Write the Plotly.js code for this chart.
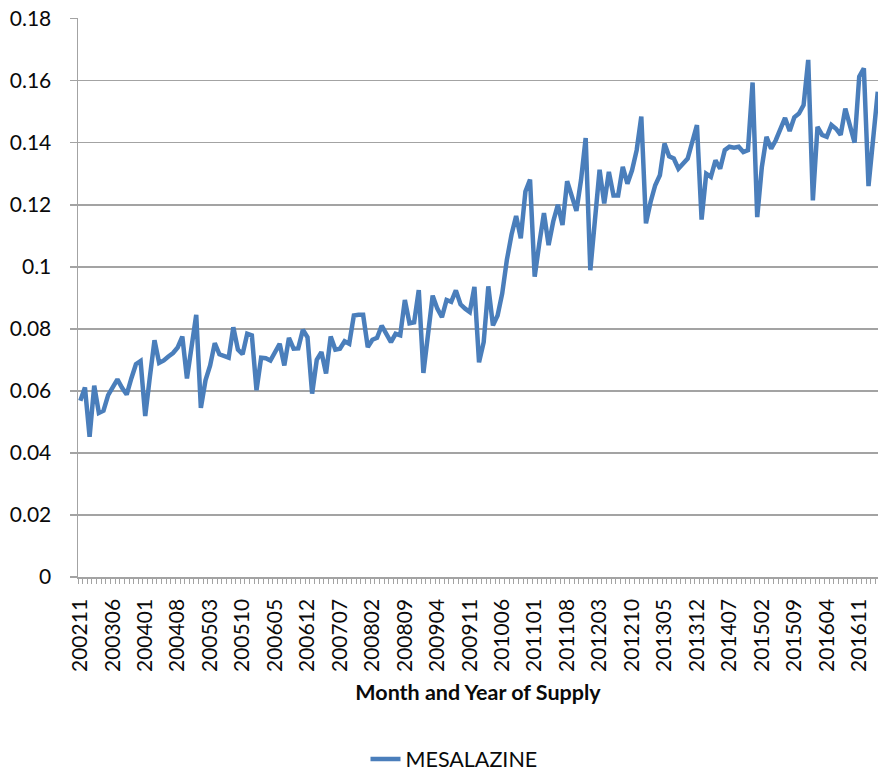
<!DOCTYPE html>
<html>
<head>
<meta charset="utf-8">
<script src="https://cdn.plot.ly/plotly-3.0.1.min.js"></script>
<style>
  html, body { margin: 0; padding: 0; background: #ffffff; }
  #chart { width: 878px; height: 776px; }
</style>
</head>
<body>
<div id="chart"></div>
<script>
// Category range: monthly, from 200211 to 201703
const startYear = 2002, startMonth = 11, monthCount = 173;
const months = [];
for (let k = 0; k < monthCount; k++) {
  const m0 = startMonth - 1 + k;
  const yy = startYear + Math.floor(m0 / 12);
  const mm = (m0 % 12) + 1;
  months.push(String(yy) + (mm < 10 ? '0' : '') + mm);
}

// Tick labels shown on the category axis
const tickLabels = ['200211','200306','200401','200408','200503','200510','200605','200612',
  '200707','200802','200809','200904','200911','201006','201101','201108','201203','201210',
  '201305','201312','201407','201502','201509','201604','201611'];

// MESALAZINE series values
const mesalazine = [
  0.0568,0.0611,0.0452,0.0617,0.0529,0.0536,0.0586,0.0613,0.0637,0.0610,
  0.0588,0.0640,0.0686,0.0696,0.0519,0.0645,0.0763,0.0690,0.0698,0.0711,
  0.0722,0.0740,0.0775,0.0640,0.0755,0.0845,0.0545,0.0634,0.0682,0.0754,
  0.0718,0.0711,0.0707,0.0805,0.0733,0.0718,0.0784,0.0779,0.0602,0.0707,
  0.0705,0.0698,0.0725,0.0752,0.0682,0.0771,0.0736,0.0737,0.0797,0.0773,
  0.0591,0.0700,0.0725,0.0656,0.0775,0.0733,0.0736,0.0760,0.0752,0.0843,
  0.0845,0.0845,0.0741,0.0765,0.0771,0.0810,0.0784,0.0757,0.0784,0.0779,
  0.0893,0.0818,0.0821,0.0925,0.0658,0.0784,0.0907,0.0865,0.0838,0.0893,
  0.0887,0.0924,0.0879,0.0865,0.0854,0.0935,0.0692,0.0757,0.0937,0.0811,
  0.0843,0.0914,0.1022,0.1103,0.1164,0.1092,0.1243,0.1281,0.0968,0.1076,
  0.1173,0.1070,0.1146,0.1200,0.1135,0.1276,0.1227,0.1180,0.1280,0.1415,
  0.0989,0.1162,0.1313,0.1204,0.1306,0.1230,0.1230,0.1322,0.1268,0.1311,
  0.1376,0.1484,0.1140,0.1209,0.1263,0.1295,0.1397,0.1356,0.1349,0.1316,
  0.1333,0.1349,0.1403,0.1457,0.1152,0.1300,0.1290,0.1343,0.1316,0.1376,
  0.1387,0.1384,0.1387,0.1370,0.1376,0.1594,0.1160,0.1322,0.1419,0.1381,
  0.1408,0.1440,0.1480,0.1438,0.1482,0.1494,0.1521,0.1667,0.1214,0.1451,
  0.1425,0.1419,0.1457,0.1445,0.1425,0.1510,0.1460,0.1400,0.1613,0.1640,
  0.1260,0.1410,0.1564
];

const yTicks = [0, 0.02, 0.04, 0.06, 0.08, 0.1, 0.12, 0.14, 0.16, 0.18];
const yTickText = ['0','0.02','0.04','0.06','0.08','0.1','0.12','0.14','0.16','0.18'];

const FONT = 'Lato, "Open Sans", sans-serif';
const GRID = '#a3a3a3';
const TEXT = '#0a0a0a';

const traces = [
  {
    x: months, y: mesalazine, type: 'scatter', mode: 'lines', name: 'MESALAZINE',
    line: { color: '#4a7ebb', width: 4.5 }, hoverinfo: 'x+y'
  },
  {
    x: months, y: mesalazine, type: 'scatter', mode: 'lines', xaxis: 'x2',
    line: { color: 'rgba(0,0,0,0)', width: 0 }, showlegend: false, hoverinfo: 'skip'
  }
];

const layout = {
  width: 878, height: 776,
  margin: { l: 78, r: 0, t: 18, b: 199, autoexpand: false },
  paper_bgcolor: '#ffffff', plot_bgcolor: '#ffffff',
  font: { family: FONT, size: 21, color: TEXT },
  showlegend: true,
  legend: {
    orientation: 'h', x: 0.47, xanchor: 'center',
    yref: 'container', y: 0.022, yanchor: 'middle',
    font: { family: FONT, size: 21.5, color: TEXT }
  },
  xaxis: {
    type: 'category', range: [-0.5, 172.05],
    tickmode: 'array', tickvals: tickLabels, ticktext: tickLabels,
    tickangle: -90, ticks: '', ticklabelstandoff: 12,
    showgrid: false, zeroline: false,
    showline: true, linecolor: GRID, linewidth: 1.5,
    tickfont: { family: FONT, size: 21, color: TEXT },
    title: { text: 'Month and Year of Supply', standoff: 14,
             font: { family: FONT, size: 21.5, color: TEXT, weight: 700 } }
  },
  xaxis2: {
    type: 'category', overlaying: 'x', matches: 'x', anchor: 'y', side: 'bottom',
    tickmode: 'linear', dtick: 1, tickson: 'boundaries',
    ticks: 'outside', ticklen: 6, tickwidth: 1, tickcolor: GRID,
    showticklabels: false, showgrid: false, zeroline: false, showline: false
  },
  yaxis: {
    range: [0, 0.1802],
    tickmode: 'array', tickvals: yTicks, ticktext: yTickText,
    ticks: 'outside', ticklen: 7, tickwidth: 1.5, tickcolor: GRID,
    ticklabelstandoff: 14,
    showgrid: true, gridcolor: GRID, gridwidth: 1.5,
    zeroline: false, showline: true, linecolor: GRID, linewidth: 1.5,
    tickfont: { family: FONT, size: 21, color: TEXT }
  }
};

Plotly.newPlot('chart', traces, layout, { displayModeBar: false, staticPlot: true });
</script>
</body>
</html>
